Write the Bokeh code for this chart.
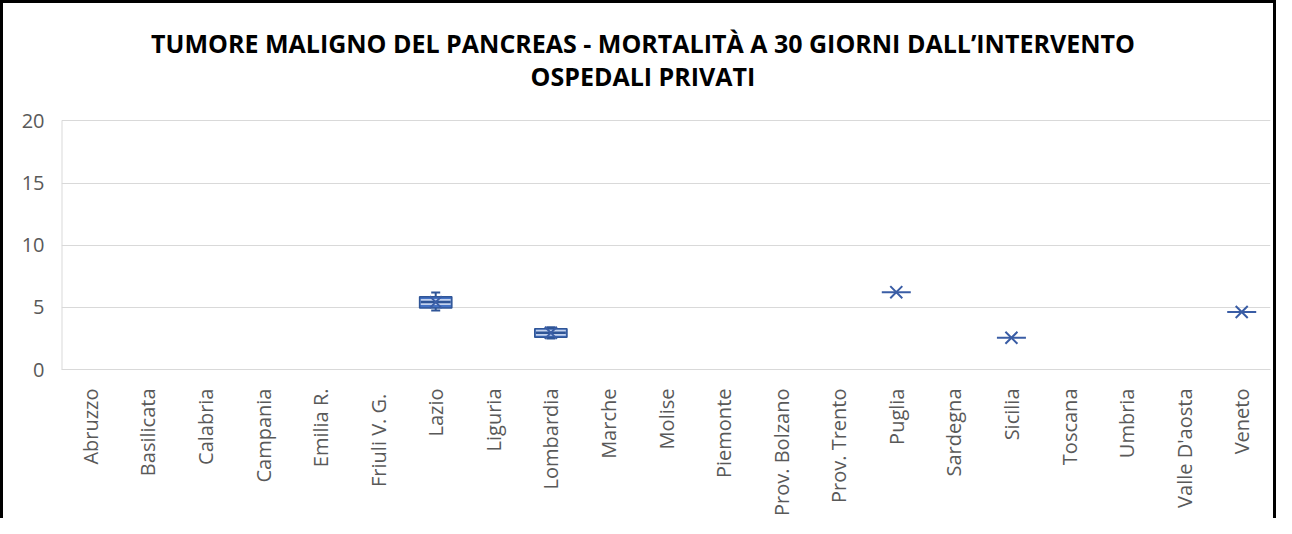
import math
from bokeh.plotting import figure
from bokeh.models import FactorRange, Range1d, FixedTicker, Label, ColumnDataSource
from bokeh.embed import file_html
from bokeh.resources import INLINE

categories = ["Abruzzo", "Basilicata", "Calabria", "Campania", "Emilia R.", "Friuli  V. G.",
              "Lazio", "Liguria", "Lombardia", "Marche", "Molise", "Piemonte", "Prov. Bolzano",
              "Prov. Trento", "Puglia", "Sardegna", "Sicilia", "Toscana", "Umbria",
              "Valle D'aosta", "Veneto"]

box_regions = ["Lazio", "Lombardia"]
box_low = [4.75, 2.5]
box_q1 = [4.95, 2.6]
box_median = [5.42, 2.95]
box_q3 = [5.85, 3.27]
box_high = [6.2, 3.4]
box_mean = [5.42, 2.95]

single_regions = ["Puglia", "Sicilia", "Veneto"]
single_values = [6.22, 2.55, 4.63]

y_ticks = [0, 5, 10, 15, 20]

title_line1 = "TUMORE MALIGNO DEL PANCREAS - MORTALITÀ A 30 GIORNI DALL’INTERVENTO"
title_line2 = "OSPEDALI PRIVATI"

FONT = "Open Sans"
BLUE = "#4472c4"
DARK = "#2f5597"
MARK = "#3a5da5"
LIGHT = "#c3d2ee"
GRID = "#d9d9d9"
TXT = "#595959"

# the plot frame also holds the title area above the value axis (0..20)
Y_MAX = 29.68
p = figure(width=1276, height=518, x_range=FactorRange(*categories, range_padding=0),
           y_range=Range1d(0, Y_MAX), output_backend="svg", toolbar_location=None,
           min_border_left=61, min_border_right=6, min_border_top=0, min_border_bottom=147)
p.title = None
p.outline_line_color = None
p.background_fill_color = None
p.border_fill_color = None
p.styles = {"box-shadow": "inset 3px 3px 0 0 #000000, inset -3px 0 0 0 #000000",
            "background-color": "white"}

# titles
p.add_layout(Label(x=10.1, y=26.24, text=title_line1, text_align="center",
                   text_baseline="middle", text_font=FONT, text_font_size="25px",
                   text_font_style="bold", text_color="black"))
p.add_layout(Label(x=10.1, y=23.6, text=title_line2, text_align="center",
                   text_baseline="middle", text_font=FONT, text_font_size="25px",
                   text_font_style="bold", text_color="black"))

p.xgrid.grid_line_color = None
p.ygrid.grid_line_color = GRID
p.ygrid.grid_line_width = 1
p.yaxis.ticker = FixedTicker(ticks=y_ticks)
p.yaxis.axis_line_color = None
p.yaxis.major_tick_line_color = None
p.yaxis.minor_tick_line_color = None
p.yaxis.major_tick_out = 0
p.yaxis.major_label_standoff = 17
p.yaxis.major_label_text_font = FONT
p.yaxis.major_label_text_font_size = "20px"
p.yaxis.major_label_text_color = TXT

# value axis line, only over the 0..20 value range
p.segment(x0=[0], y0=[y_ticks[0]], x1=[0], y1=[y_ticks[-1]], line_color=GRID, line_width=2)

p.xaxis.axis_line_color = GRID
p.xaxis.major_tick_line_color = None
p.xaxis.major_tick_out = 0
p.xaxis.major_label_orientation = math.pi / 2
p.xaxis.major_label_standoff = 19
p.xaxis.major_label_text_font = FONT
p.xaxis.major_label_text_font_size = "20px"
p.xaxis.major_label_text_color = TXT

bsrc = ColumnDataSource(dict(x=box_regions, low=box_low, q1=box_q1, med=box_median,
                             q3=box_q3, high=box_high, mean=box_mean))
ssrc = ColumnDataSource(dict(x=single_regions, y=single_values))

# whiskers
p.segment(x0="x", y0="low", x1="x", y1="high", source=bsrc, line_color=DARK, line_width=2)
p.scatter(x="x", y="low", source=bsrc, marker="dash", size=9, line_color=DARK, line_width=2)
p.scatter(x="x", y="high", source=bsrc, marker="dash", size=9, line_color=DARK, line_width=2)
# boxes
p.vbar(x="x", bottom="q1", top="q3", width=0.56, source=bsrc, fill_color=BLUE,
       line_color=DARK, line_width=1.5)
# median line
p.rect(x="x", y="med", width=0.52, height=6, height_units="screen", source=bsrc,
       fill_color=LIGHT, line_color=None)
p.rect(x="x", y="med", width=0.52, height=2.5, height_units="screen", source=bsrc,
       fill_color=DARK, line_color=None)
# mean markers
p.scatter(x="x", y="mean", source=bsrc, marker="x", size=17, line_color=MARK, line_width=2)

# single value categories
p.scatter(x="x", y="y", source=ssrc, marker="dash", size=29, line_color=MARK, line_width=2)
p.scatter(x="x", y="y", source=ssrc, marker="x", size=17, line_color=MARK, line_width=2)

open("out.html", "w").write(file_html(p, INLINE))
